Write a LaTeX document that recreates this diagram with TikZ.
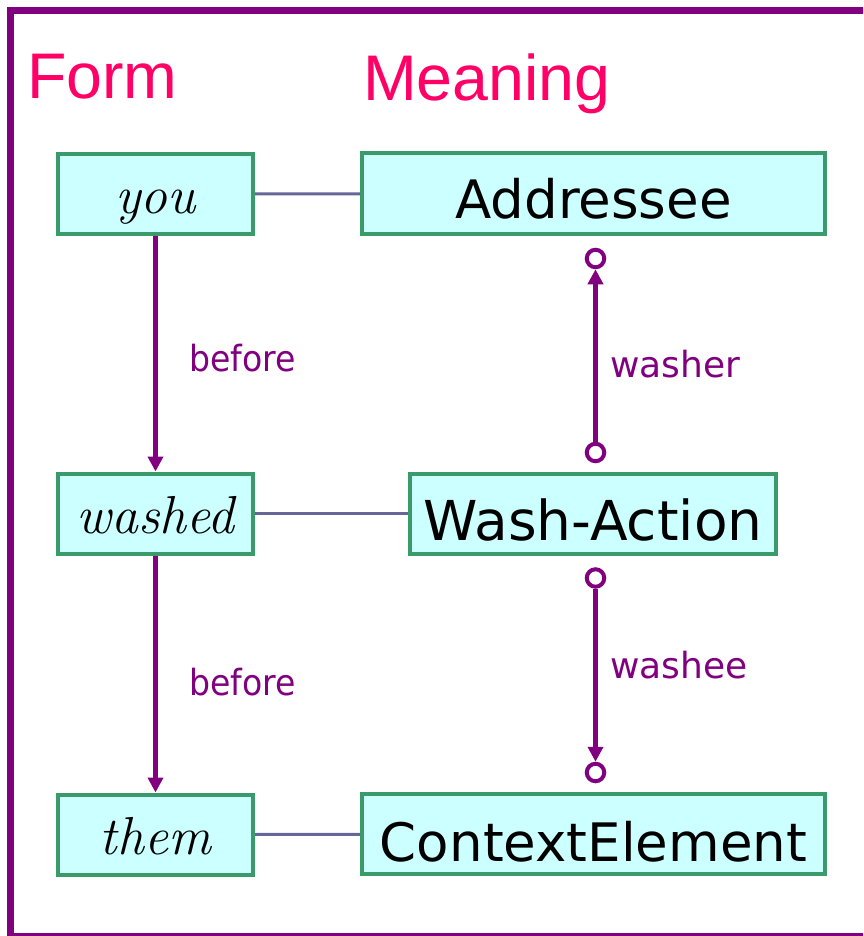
\documentclass[tikz,border=0pt]{standalone}
\usepackage{fontspec}
\usetikzlibrary{arrows.meta}
\newfontfamily\tahfont{DejaVu Sans}
\newfontfamily\tahnarrow[FakeStretch=0.92]{DejaVu Sans}
\newfontfamily\headfont{Liberation Sans}
\definecolor{framepurple}{RGB}{128,0,128}
\definecolor{headpink}{RGB}{255,0,102}
\definecolor{boxgreen}{RGB}{58,154,106}
\definecolor{boxfill}{RGB}{204,255,255}
\definecolor{linkgray}{RGB}{102,102,153}
\begin{document}
\begin{tikzpicture}[x=1pt,y=-1pt,
  formbox/.style={draw=boxgreen, fill=boxfill, line width=4pt, inner sep=0pt,
    minimum width=195pt, minimum height=80pt, text height=39pt, text depth=0pt,
    font=\fontsize{53.5}{60}\selectfont\itshape},
  meanbox/.style={draw=boxgreen, fill=boxfill, line width=4pt, inner sep=0pt,
    minimum height=80pt, text depth=0pt, font=\tahfont},
  heading/.style={anchor=base west, inner sep=0pt, text=headpink,
    font=\headfont\fontsize{64.5}{70}\selectfont},
  rel/.style={anchor=base west, inner sep=0pt, text=framepurple,
    font=\tahfont\fontsize{36}{40}\selectfont},
  port/.style={circle, draw=framepurple, fill=white, line width=4pt,
    minimum size=17.5pt, inner sep=0pt},
  link/.style={draw=linkgray, line width=3pt},
  flow/.style={draw=framepurple, line width=4.5pt,
    -{Triangle[width=15pt,length=15pt]}}
]
\useasboundingbox (0,0) rectangle (863,936);
\clip (0,0) rectangle (863,936);

% frame
\draw[framepurple, line width=7.5pt] (10.5,10.3) rectangle (880,937);

% headings
\node[heading] (hform) at (27,98.5) {Form};
\node[heading] (hmean) at (363,101) {Meaning};

% form column
\node[formbox] (you)    at (155.5,194)   {you};
\node[formbox] (washed) at (155.5,513.5) {washed};
\node[formbox] (them)   at (155.5,834.5) {them};

% meaning column
\node[meanbox, minimum width=463pt, text height=50pt,
  font=\tahfont\fontsize{53}{60}\selectfont] (addr) at (593.5,193.5) {Addressee};
\node[meanbox, minimum width=366pt, text height=54pt,
  font=\tahfont\fontsize{55}{60}\selectfont] (wash) at (593,513.5) {Wash-Action};
\node[meanbox, minimum width=463pt, text height=54pt,
  font=\tahfont\fontsize{53}{60}\selectfont] (ctx) at (593.5,834) {ContextElement};

% form-meaning links
\draw[link] (you) -- (addr);
\draw[link] (washed) -- (wash);
\draw[link] (them) -- (ctx);

% ordering of forms
\draw[flow] (you) -- (washed);
\draw[flow] (washed) -- (them);
\node[rel, font=\tahnarrow\fontsize{36}{40}\selectfont] (b1) at (189,371.5) {before};
\node[rel, font=\tahnarrow\fontsize{36}{40}\selectfont] (b2) at (189,695.5) {before};

% role ports
\node[port] (wr1) at (595.5,258.5) {};
\node[port] (wr2) at (595.5,452.5) {};
\node[port] (we1) at (595.5,578) {};
\node[port] (we2) at (595.5,772.5) {};
\draw[flow] (wr2) -- (wr1);
\draw[flow] (we1) -- (we2);
\node[rel] (lwasher) at (610,377.5) {washer};
\node[rel] (lwashee) at (610,678.5) {washee};
\end{tikzpicture}
\end{document}
